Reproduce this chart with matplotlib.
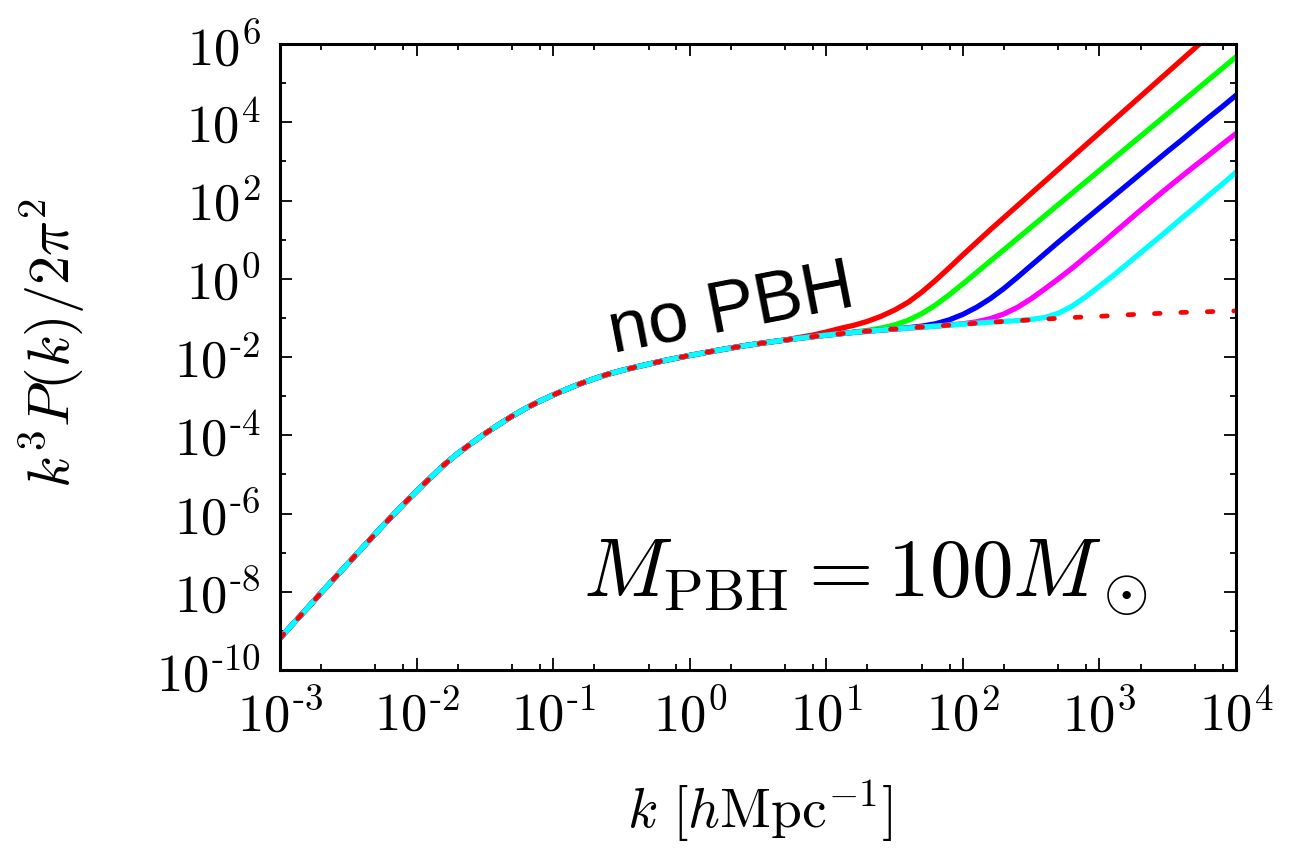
import matplotlib
matplotlib.use("Agg")
import numpy as np
import matplotlib.pyplot as plt
from matplotlib.ticker import FixedLocator, NullFormatter

plt.rcParams["mathtext.fontset"] = "cm"

# log10 k grid [h/Mpc]
log_k = [-3.0, -2.9, -2.8, -2.7, -2.6, -2.5, -2.4, -2.3, -2.2, -2.1,
         -2.0, -1.9, -1.8, -1.7, -1.6, -1.5, -1.4, -1.3, -1.2, -1.1,
         -1.0, -0.9, -0.8, -0.7, -0.6, -0.5, -0.4, -0.3, -0.2, -0.1,
         0.0, 0.1, 0.2, 0.3, 0.4, 0.5, 0.6, 0.7, 0.8, 0.9,
         1.0, 1.1, 1.2, 1.3, 1.4, 1.5, 1.6, 1.7, 1.8, 1.9,
         2.0, 2.1, 2.2, 2.3, 2.4, 2.5, 2.6, 2.7, 2.8, 2.9,
         3.0, 3.1, 3.2, 3.3, 3.4, 3.5, 3.6, 3.7, 3.8, 3.9, 4.0]

# log10 k^3 P(k)/2pi^2, no PBH
log_nopbh = [-9.19, -8.80, -8.42, -8.03, -7.65, -7.27, -6.89, -6.51, -6.14, -5.78,
             -5.43, -5.09, -4.76, -4.47, -4.21, -3.96, -3.73, -3.51, -3.31, -3.13,
             -2.97, -2.82, -2.68, -2.555, -2.44, -2.345, -2.26, -2.18, -2.10, -2.03,
             -1.96, -1.895, -1.83, -1.77, -1.71, -1.66, -1.61, -1.565, -1.52, -1.48,
             -1.44, -1.405, -1.37, -1.34, -1.31, -1.285, -1.26, -1.235, -1.21, -1.185,
             -1.16, -1.135, -1.11, -1.09, -1.07, -1.05, -1.03, -1.01, -0.99, -0.975,
             -0.96, -0.94, -0.92, -0.905, -0.89, -0.875, -0.86, -0.85, -0.84, -0.83, -0.82]

# PBH curves: only the part where they leave the no-PBH curve (start = log k)
red_start = 0.8
log_red = [-1.50, -1.44, -1.36, -1.27, -1.19, -1.09, -0.96, -0.80, -0.60, -0.34,
           -0.04, 0.28, 0.61, 0.93, 1.25, 1.56, 1.87, 2.18, 2.49, 2.80,
           3.11, 3.42, 3.73, 4.04, 4.35, 4.66, 4.97, 5.28, 5.59, 5.90,
           6.21, 6.52, 6.83]
green_start = 1.2
log_green = [-1.36, -1.32, -1.26, -1.18, -1.06, -0.89, -0.67, -0.41, -0.13, 0.16,
             0.45, 0.74, 1.03, 1.32, 1.61, 1.90, 2.19, 2.48, 2.77, 3.06,
             3.35, 3.64, 3.93, 4.22, 4.51, 4.80, 5.09, 5.38, 5.67]
blue_start = 1.6
log_blue = [-1.25, -1.21, -1.15, -1.05, -0.91, -0.73, -0.51, -0.25, 0.04, 0.34,
            0.64, 0.94, 1.23, 1.52, 1.81, 2.10, 2.39, 2.68, 2.97, 3.26,
            3.54, 3.83, 4.12, 4.40, 4.69]
magenta_start = 1.9
log_magenta = [-1.18, -1.15, -1.10, -1.02, -0.90, -0.73, -0.51, -0.26, 0.00, 0.27,
               0.56, 0.85, 1.15, 1.45, 1.75, 2.04, 2.33, 2.61, 2.89, 3.16,
               3.44, 3.71]
cyan_start = 2.5
log_cyan = [-1.04, -0.99, -0.88, -0.70, -0.46, -0.19, 0.08, 0.37, 0.66, 0.95,
            1.24, 1.54, 1.83, 2.13, 2.42, 2.72]

x_major = [-3, -2, -1, 0, 1, 2, 3, 4]
y_major = [-10, -8, -6, -4, -2, 0, 2, 4, 6]


def pow_label(e):
    if e < 0:
        return r"$10^{\text{-}%d}$" % (-e)
    return r"$10^{%d}$" % e


def full_curve(start, tail):
    i0 = log_k.index(start)
    return np.array(log_nopbh[:i0] + tail)


fig = plt.figure(figsize=(13.15, 8.49), dpi=100)
ax = fig.add_axes([0.2129, 0.2108, 0.7270, 0.7373])

k = 10.0 ** np.array(log_k)
for start, tail, col in [(red_start, log_red, "#ff0000"),
                         (green_start, log_green, "#00ff00"),
                         (blue_start, log_blue, "#0000ff"),
                         (magenta_start, log_magenta, "#ff00ff"),
                         (cyan_start, log_cyan, "#00ffff")]:
    ax.plot(k, 10.0 ** full_curve(start, tail), color=col, lw=3.8,
            solid_joinstyle="round")

ax.plot(k, 10.0 ** np.array(log_nopbh), color="#ff0000", lw=3.4,
        dashes=(1.2, 4.4), dash_capstyle="round")

ax.set_xscale("log")
ax.set_yscale("log")
ax.set_xlim(1e-3, 1e4)
ax.set_ylim(1e-10, 1e6)

ax.xaxis.set_major_locator(FixedLocator([10.0 ** e for e in x_major]))
ax.set_xticklabels([pow_label(e) for e in x_major])
ax.xaxis.set_minor_locator(FixedLocator([m * 10.0 ** e for e in x_major[:-1] for m in (2, 5, 8)]))
ax.xaxis.set_minor_formatter(NullFormatter())

ax.yaxis.set_major_locator(FixedLocator([10.0 ** e for e in y_major]))
ax.set_yticklabels([pow_label(e) for e in y_major])
ax.yaxis.set_minor_locator(FixedLocator([10.0 ** e for e in range(-9, 6, 2)]))
ax.yaxis.set_minor_formatter(NullFormatter())

ax.tick_params(which="both", direction="in", top=True, right=True, width=1.3)
ax.tick_params(which="major", length=8.5, labelsize=38)
ax.tick_params(which="minor", length=4.5)
ax.tick_params(axis="x", which="major", pad=14)
ax.tick_params(axis="y", which="major", pad=14)
for s in ax.spines.values():
    s.set_linewidth(2.2)

ax.set_xlabel(r"$k\ [h{\rm Mpc}^{-1}]$", fontsize=40, va="center")
ax.xaxis.set_label_coords(0.502, -0.227)
ax.set_ylabel(r"$k^3P(k)/2\pi^2$", fontsize=42, va="center")
ax.yaxis.set_label_coords(-0.238, 0.522)

ax.text(0.348, 0.508, "no PBH", transform=ax.transAxes, fontsize=52,
        family="Liberation Sans", rotation=11, rotation_mode="anchor",
        ha="left", va="baseline")
ax.text(0.317, 0.1166, r"$M_{\rm PBH} = 100 M_\odot$", transform=ax.transAxes,
        fontsize=60, ha="left", va="baseline")

fig.savefig("out.png", dpi=100)
